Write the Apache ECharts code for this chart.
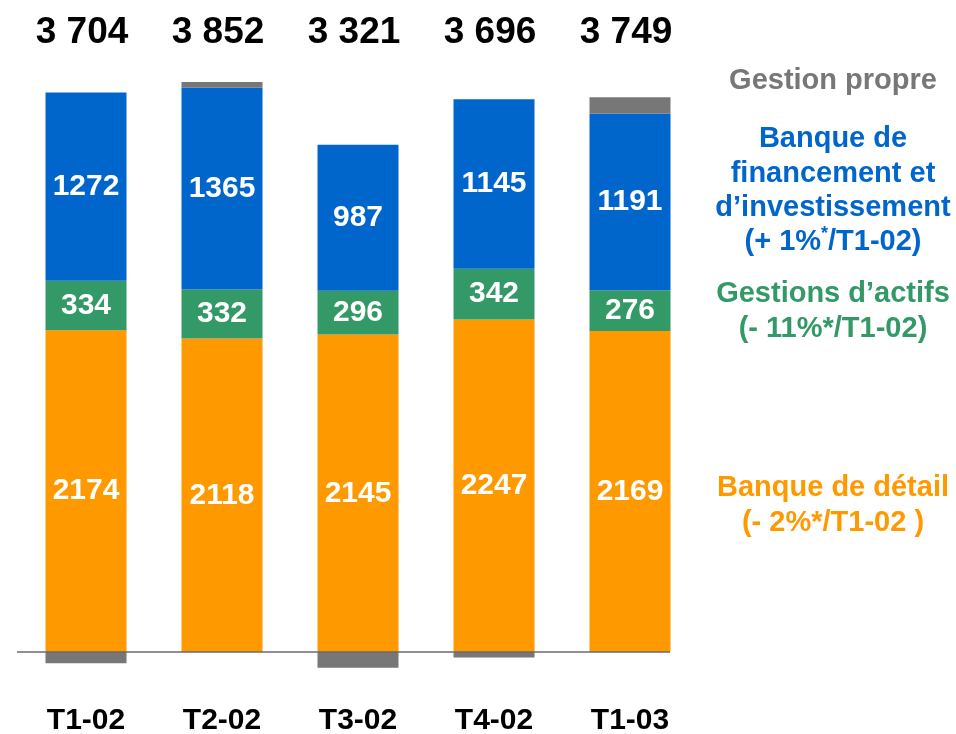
<!DOCTYPE html>
<html>
<head>
<meta charset="utf-8">
<script src="https://cdn.jsdelivr.net/npm/echarts@6/dist/echarts.min.js"></script>
<style>
  html, body { margin: 0; padding: 0; background: #fff; }
  #chart { width: 956px; height: 734px; }
</style>
</head>
<body>
<div id="chart"></div>
<script>
const categories = ["T1-02", "T2-02", "T3-02", "T4-02", "T1-03"];
const totals = [3704, 3852, 3321, 3696, 3749];
const banqueDetail = [2174, 2118, 2145, 2247, 2169];
const gestionsActifs = [334, 332, 296, 342, 276];
const bfi = [1272, 1365, 987, 1145, 1191];
const gestionPropre = [-76, 37, -107, -38, 113];

const FONT = 'Arial, "Liberation Sans", sans-serif';
const colors = {
  detail: "#ff9900",
  actifs: "#339966",
  bfi: "#0066cc",
  propre: "#777777",
};

// "3704" -> "3 704"
const fmtTotal = (v) => String(v).replace(/\B(?=(\d{3})+(?!\d))/g, " ");

const chart = echarts.init(document.getElementById("chart"));

const insideLabel = {
  show: true,
  position: "inside",
  color: "#fff",
  fontFamily: FONT,
  fontWeight: "bold",
  fontSize: 30,
};

const makeBar = (name, data, color, label) => ({
  name: name,
  type: "bar",
  stack: "total",
  data: data,
  barWidth: 81,
  clip: false, // negative "gestion propre" hangs below the grid bottom (zero line)
  itemStyle: { color: color },
  label: label ? insideLabel : { show: false },
  emphasis: { disabled: true },
});

const legendText = (y, text, color) => ({
  type: "text",
  x: 833,
  y: y,
  style: {
    text: text,
    fill: color,
    font: "bold 29px " + FONT,
    textAlign: "center",
    textVerticalAlign: "top",
    lineHeight: 34.5,
  },
});

const option = {
  animation: false,
  // grid bottom sits on the zero line
  grid: { left: 18, right: 258, top: 60, bottom: 82, outerBoundsMode: "none", containLabel: false },
  xAxis: [
    {
      type: "category",
      data: categories,
      axisLine: { show: false },
      axisTick: { show: false },
      axisLabel: {
        margin: 54,
        color: "#000",
        fontFamily: FONT,
        fontWeight: "bold",
        fontSize: 30,
      },
    },
    {
      type: "category",
      position: "top",
      data: totals.map(fmtTotal),
      axisLine: { show: false, onZero: false },
      axisTick: { show: false },
      axisLabel: {
        margin: 9,
        padding: [0, 8, 0, 0],
        color: "#000",
        fontFamily: FONT,
        fontWeight: "bold",
        fontSize: 37,
      },
    },
  ],
  yAxis: {
    type: "value",
    min: 0,
    max: 4000,
    show: false,
    splitLine: { show: false },
  },
  series: [
    makeBar("Banque de détail", banqueDetail, colors.detail, true),
    makeBar("Gestions d'actifs", gestionsActifs, colors.actifs, true),
    makeBar("Banque de financement et d'investissement", bfi, colors.bfi, true),
    makeBar("Gestion propre", gestionPropre, colors.propre, false),
  ],
};

chart.setOption(option);

// baseline and right-hand annotations
const zeroY = chart.convertToPixel({ yAxisIndex: 0 }, 0);
const sub = {
  n: { font: "bold 29px " + FONT, fill: colors.bfi, lineHeight: 34.5 },
  s: { font: "bold 18px " + FONT, fill: colors.bfi, verticalAlign: "top", lineHeight: 34.5, padding: [0, 0, 12, 0] },
};

chart.setOption({
  graphic: [
    {
      type: "line",
      shape: { x1: 17, y1: zeroY, x2: 670, y2: zeroY },
      style: { stroke: "#6b6b6b", lineWidth: 1.5 },
      z: 10,
      silent: true,
    },
    legendText(64, "Gestion propre", colors.propre),
    legendText(122, "Banque de\nfinancement et\nd\u2019investissement", colors.bfi),
    {
      type: "text",
      x: 833,
      y: 225,
      style: {
        text: "{n|(+ 1%}{s|*}{n|/T1-02)}",
        textAlign: "center",
        textVerticalAlign: "top",
        rich: sub,
      },
    },
    legendText(277, "Gestions d\u2019actifs\n(- 11%*/T1-02)", colors.actifs),
    legendText(471, "Banque de détail\n(- 2%*/T1-02 )", colors.detail),
  ],
});

window.addEventListener("resize", () => chart.resize());
</script>
</body>
</html>
